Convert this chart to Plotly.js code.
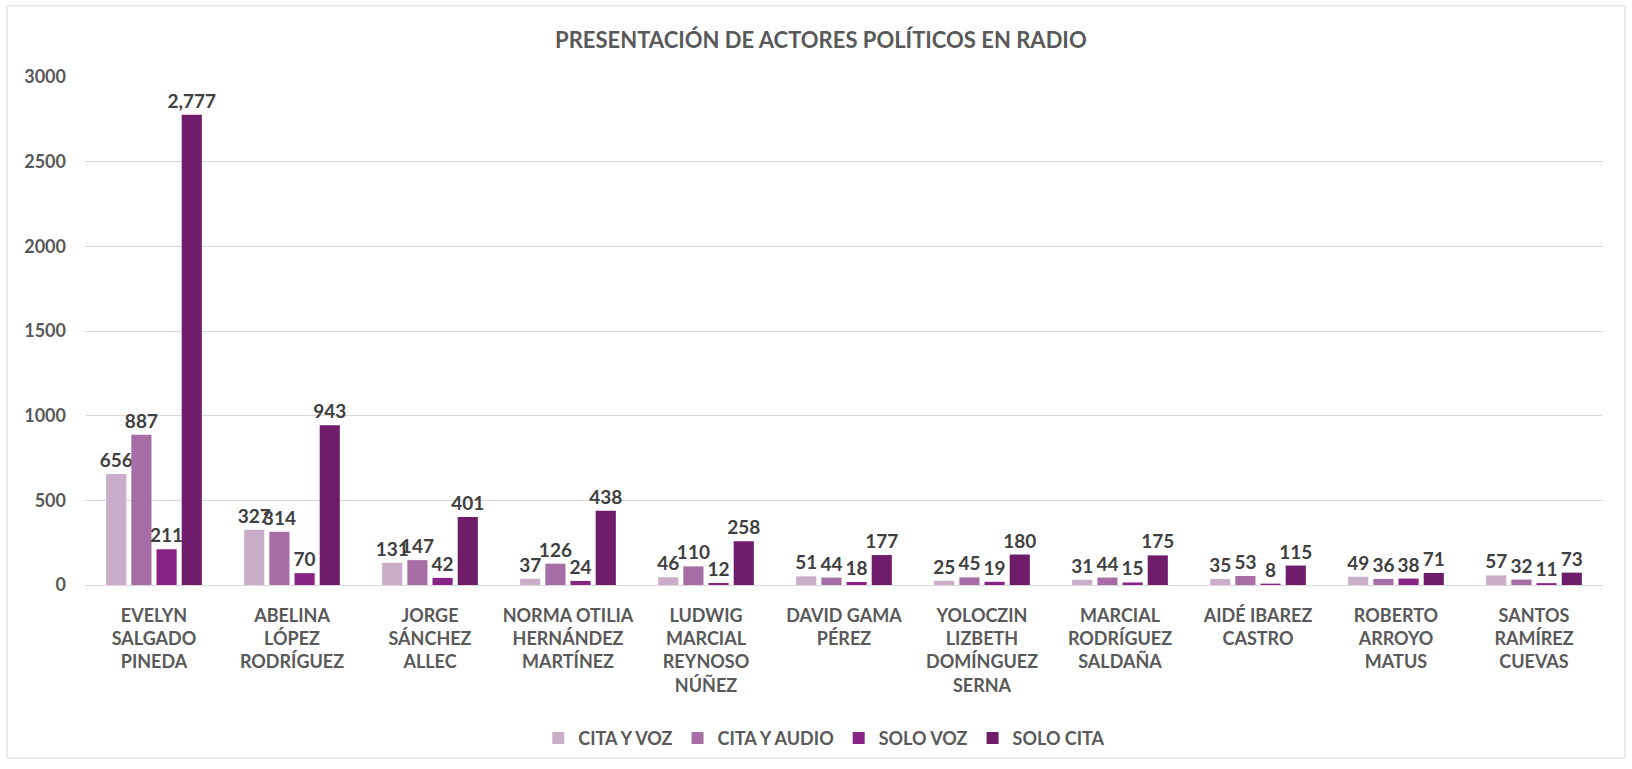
<!DOCTYPE html>
<html>
<head>
<meta charset="utf-8">
<script src="https://cdn.plot.ly/plotly-3.0.1.min.js"></script>
<style>html,body{margin:0;padding:0;background:#fff;}#chart{width:1632px;height:769px;}</style>
</head>
<body>
<div id="chart"></div>
<script>
const categories = [
  "EVELYN<br>SALGADO<br>PINEDA",
  "ABELINA<br>LÓPEZ<br>RODRÍGUEZ",
  "JORGE<br>SÁNCHEZ<br>ALLEC",
  "NORMA OTILIA<br>HERNÁNDEZ<br>MARTÍNEZ",
  "LUDWIG<br>MARCIAL<br>REYNOSO<br>NÚÑEZ",
  "DAVID GAMA<br>PÉREZ",
  "YOLOCZIN<br>LIZBETH<br>DOMÍNGUEZ<br>SERNA",
  "MARCIAL<br>RODRÍGUEZ<br>SALDAÑA",
  "AIDÉ IBAREZ<br>CASTRO",
  "ROBERTO<br>ARROYO<br>MATUS",
  "SANTOS<br>RAMÍREZ<br>CUEVAS"
];
const citaYVoz   = [656, 327, 131, 37, 46, 51, 25, 31, 35, 49, 57];
const citaYAudio = [887, 314, 147, 126, 110, 44, 45, 44, 53, 36, 32];
const soloVoz    = [211, 70, 42, 24, 12, 18, 19, 15, 8, 38, 11];
const soloCita   = [2777, 943, 401, 438, 258, 177, 180, 175, 115, 71, 73];
const seriesNames = ["CITA Y VOZ", "CITA Y AUDIO", "SOLO VOZ", "SOLO CITA"];
const yTicks = [0, 500, 1000, 1500, 2000, 2500, 3000];

const colors = ["#C9ADC9", "#A76DA6", "#8A2386", "#6F1C6B"];
const FONT = "Lato, 'Open Sans', sans-serif";
const fmt = v => v.toLocaleString('en-US');

const data = [citaYVoz, citaYAudio, soloVoz, soloCita].map((vals, i) => ({
  type: 'bar',
  name: seriesNames[i],
  x: categories,
  y: vals,
  text: vals.map(fmt),
  textposition: 'outside',
  textangle: 0,
  constraintext: 'none',
  cliponaxis: false,
  textfont: {family: FONT, size: 19, color: '#404040', weight: 'bold'},
  marker: {color: colors[i]},
  hoverinfo: 'none'
}));

const layout = {
  width: 1632, height: 769,
  margin: {l: 85, r: 29, t: 77, b: 178},
  paper_bgcolor: '#fff', plot_bgcolor: '#fff',
  barmode: 'group',
  bargap: 0.27,
  bargroupgap: 0.2,
  title: {
    text: 'PRESENTACIÓN DE ACTORES POLÍTICOS EN RADIO',
    font: {family: FONT, size: 22, color: '#595959', weight: 'bold'},
    x: 0.503, xref: 'container', xanchor: 'center',
    y: 1 - 40/769, yref: 'container', yanchor: 'middle'
  },
  xaxis: {
    tickfont: {family: FONT, size: 18, color: '#595959', weight: 'bold'},
    showline: true, linecolor: '#D9D9D9', linewidth: 1,
    ticks: '', showgrid: false, tickangle: 0, automargin: false,
    ticklabelstandoff: 14
  },
  yaxis: {
    range: [0, 3000],
    tickvals: yTicks,
    ticktext: yTicks.map(String),
    tickfont: {family: FONT, size: 18, color: '#595959', weight: 'bold'},
    showgrid: true, gridcolor: '#D9D9D9', gridwidth: 1,
    zeroline: false, showline: false, ticks: '',
    ticklabelstandoff: 18, automargin: false
  },
  legend: {
    orientation: 'h',
    x: 0.487, xanchor: 'center',
    y: -0.302, yanchor: 'middle',
    font: {family: FONT, size: 18, color: '#595959', weight: 'bold'},
    itemwidth: 30
  },
  showlegend: true,
  shapes: [{
    type: 'rect', xref: 'paper', yref: 'paper',
    x0: -78/1518, x1: 1 + 22/1518, y0: -175/514, y1: 1 + 72/514,
    line: {color: '#D9D9D9', width: 1}
  }]
};

Plotly.newPlot('chart', data, layout, {displayModeBar: false, staticPlot: true});
</script>
</body>
</html>
